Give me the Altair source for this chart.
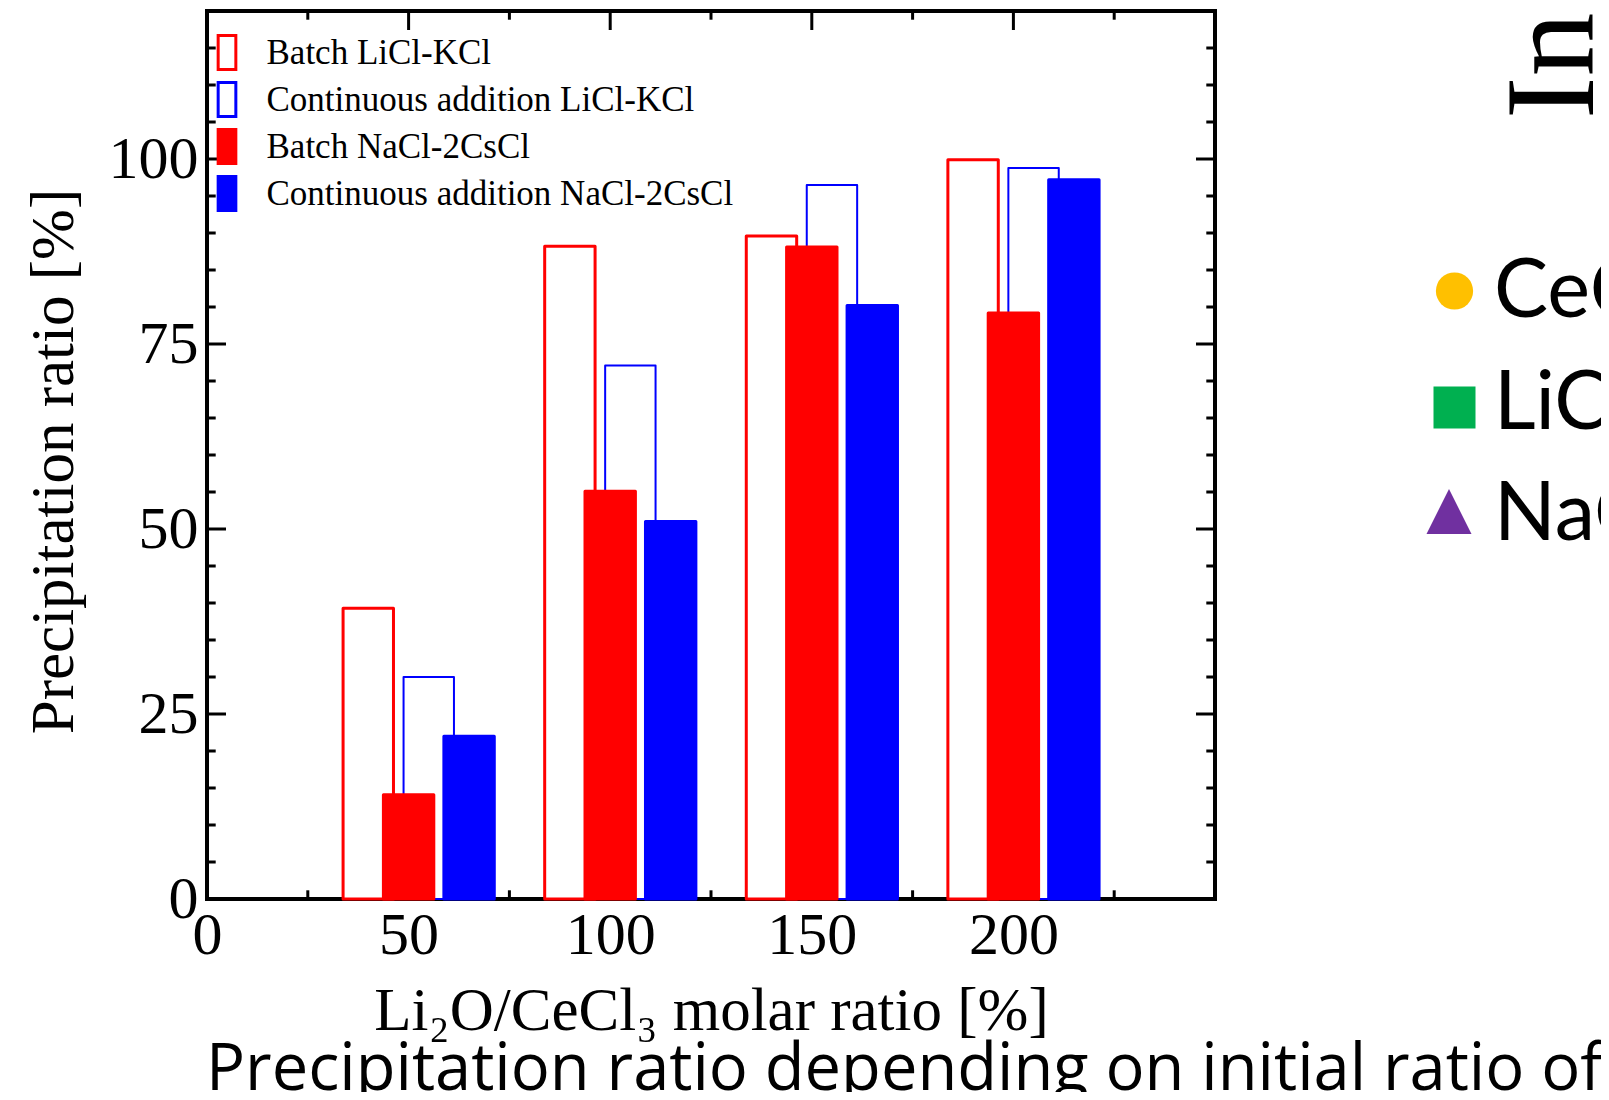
import altair as alt
import pandas as pd

# ---------------- data ----------------
groups = [50, 100, 150, 200]
series_names = [
    "Batch LiCl-KCl",
    "Continuous addition LiCl-KCl",
    "Batch NaCl-2CsCl",
    "Continuous addition NaCl-2CsCl",
]
batch_licl = [39.3, 88.2, 89.6, 99.9]
cont_licl = [30.0, 72.1, 96.5, 98.8]
batch_nacl = [14.1, 55.1, 88.1, 79.2]
cont_nacl = [22.0, 51.0, 80.2, 97.2]

x_tick_labels = [0, 50, 100, 150, 200]
y_tick_labels = [0, 25, 50, 75, 100]
x_minor_ticks = list(range(0, 251, 25))
y_minor_ticks = list(range(0, 121, 5))

x_title = "Li₂O/CeCl₃ molar ratio [%]"
y_title = "Precipitation ratio [%]"
caption = ["Precipitation ratio depending on initial ratio of Li₂O/CeCl₃"]
side_title = ["In"]
side_labels = ["CeCl₃", "LiCl-KCl", "NaCl-2CsCl"]

# ---------------- layout / style ----------------
W, H = 1008, 888
PAD = {"left": 199, "top": 3, "right": 386, "bottom": 193}
offsets = [-10, 5, 0, 15]
BAR_W = 12.5
stroke_colors = ["#ff0000", "#0000ff", "#ff0000", "#0000ff"]
fill_colors = ["white", "white", "#ff0000", "#0000ff"]
SERIF = "Liberation Serif"
SANS = "Open Sans"
SANS2 = "Lato"

rows = []
for name, vals, off in zip(series_names, [batch_licl, cont_licl, batch_nacl, cont_nacl], offsets):
    for g, v in zip(groups, vals):
        rows.append({"series": name, "ratio": g, "value": v,
                     "x0": g + off - BAR_W / 2, "x1": g + off + BAR_W / 2, "base": 0})
bar_df = pd.DataFrame(rows)

xscale = alt.Scale(domain=[0, 250], nice=False, zero=False)
yscale = alt.Scale(domain=[0, 120], nice=False, zero=False)

x_axis = alt.Axis(values=x_tick_labels, labelFlush=False, labelOverlap=False,
                  labelPadding=7, titleX=504, titleY=130,
                  titleBaseline="alphabetic", titleAlign="center")
y_axis = alt.Axis(values=y_tick_labels, labelOverlap=False, labelPadding=9,
                  titleX=-135, titleY=450, titleAngle=270,
                  titleBaseline="alphabetic", titleAlign="center")

legend = alt.Legend(
    orient="none", legendX=1.5, legendY=23, title=None,
    symbolType="M-0.52,-1H0.52V1H-0.52Z", symbolSize=1156, symbolStrokeWidth=3,
    labelFont=SERIF, labelFontSize=35, labelColor="black", labelOffset=21,
    labelBaseline="middle", rowPadding=0, padding=0, labelLimit=0,
)

bars = alt.Chart(bar_df).mark_bar(strokeJoin="round").encode(
    x=alt.X("x0:Q", scale=xscale, title=x_title, axis=x_axis),
    x2="x1:Q",
    y=alt.Y("value:Q", scale=yscale, title=y_title, axis=y_axis),
    y2="base:Q",
    stroke=alt.Stroke("series:N", scale=alt.Scale(domain=series_names, range=stroke_colors), legend=legend),
    fill=alt.Fill("series:N", scale=alt.Scale(domain=series_names, range=fill_colors), legend=legend),
    strokeWidth=alt.condition(alt.datum.series == series_names[1], alt.value(2), alt.value(3)),
)

ydf = pd.DataFrame({"v": y_minor_ticks})
xdf = pd.DataFrame({"v": x_minor_ticks})


def ytick(major, side):
    L = 19 if major else 8.7
    flt = "datum.v % 25 == 0" if major else "datum.v % 25 != 0"
    x0, x1 = (0, L) if side == "left" else (W, W - L)
    return alt.Chart(ydf).transform_filter(flt).mark_rule(color="black", strokeWidth=3).encode(
        y=alt.Y("v:Q", scale=yscale, axis=y_axis, title=y_title),
        x=alt.value(x0), x2=alt.value(x1))


def xtick(major, side):
    L = 19 if major else 8.7
    flt = "datum.v % 50 == 0" if major else "datum.v % 50 != 0"
    y0, y1 = (0, L) if side == "top" else (H, H - L)
    return alt.Chart(xdf).transform_filter(flt).mark_rule(color="black", strokeWidth=3).encode(
        x=alt.X("v:Q", scale=xscale, axis=x_axis, title=x_title),
        y=alt.value(y0), y2=alt.value(y1))


ticks = [ytick(m, s) for m in (True, False) for s in ("left", "right")] + \
        [xtick(m, s) for m in (True, False) for s in ("top", "bottom")]

cap = alt.Chart(pd.DataFrame({"t": caption})).mark_text(
    font=SANS, fontSize=65, align="left", baseline="alphabetic", color="black"
).encode(x=alt.value(-1), y=alt.value(1079), text="t:N")

side_t = alt.Chart(pd.DataFrame({"t": side_title})).mark_text(
    font=SERIF, fontSize=128, align="left", baseline="alphabetic", angle=270, color="black"
).encode(x=alt.value(1386), y=alt.value(108), text="t:N")

mk_circle = alt.Chart(pd.DataFrame({"t": side_labels[:1]})).mark_point(
    shape="circle", filled=True, size=1385, color="#ffc000", opacity=1
).encode(x=alt.value(1247.5), y=alt.value(280))
mk_square = alt.Chart(pd.DataFrame({"t": side_labels[1:2]})).mark_point(
    shape="square", filled=True, size=1764, color="#00b050", opacity=1
).encode(x=alt.value(1247.5), y=alt.value(396.5))
mk_tri = alt.Chart(pd.DataFrame({"t": side_labels[2:]})).mark_point(
    shape="M0,-1L1,1L-1,1Z", filled=True, size=2025, color="#7030a0", opacity=1
).encode(x=alt.value(1242), y=alt.value(500.5))


def side_text(label, ypos):
    return alt.Chart(pd.DataFrame({"t": [label]})).mark_text(
        font=SANS2, fontSize=81, align="left", baseline="alphabetic", color="black"
    ).encode(x=alt.value(1287), y=alt.value(ypos), text="t:N")


side_texts = [side_text(side_labels[0], 306), side_text(side_labels[1], 418), side_text(side_labels[2], 529)]

chart = alt.layer(*ticks, bars, cap, side_t, mk_circle, mk_square, mk_tri, *side_texts).properties(
    width=W, height=H, padding=PAD,
    autosize=alt.AutoSizeParams(type="none"),
    background="white",
).configure_view(
    stroke="black", strokeWidth=4
).configure_axis(
    grid=False, ticks=False, domain=False,
    labelFont=SERIF, labelFontSize=60, labelColor="black",
    titleFont=SERIF, titleFontSize=61, titleColor="black", titleFontWeight="normal",
)

chart.save("out.html", embed_options={"renderer": "svg", "actions": False})
